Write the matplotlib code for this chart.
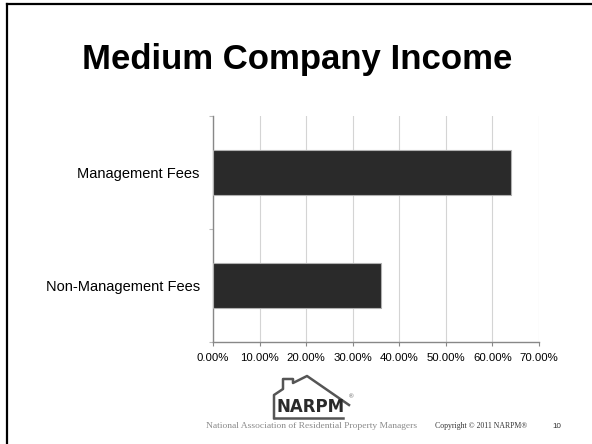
import matplotlib
matplotlib.use('Agg')
import matplotlib.pyplot as plt
from matplotlib.lines import Line2D
from matplotlib.ticker import FixedLocator, PercentFormatter

plt.rcParams['font.family'] = ['Liberation Sans', 'DejaVu Sans']

# data
categories = ['Management Fees', 'Non-Management Fees']
shares = [64.0, 36.0]
x_ticks = [0, 10, 20, 30, 40, 50, 60, 70]

W, H = 592, 444
fig = plt.figure(figsize=(W / 100, H / 100), dpi=100)


def px(x, y):
    # pixel (from top-left) -> figure fraction
    return x / W, 1 - y / H


ax = fig.add_axes([213 / W, 1 - 342 / H, (539 - 213) / W, (342 - 116) / H])

pos = list(range(len(categories)))
ax.barh(pos, shares, height=0.4, color='#2a2a2a', edgecolor='#b0b0b0', linewidth=0.8, zorder=3)

ax.set_xlim(0, 70)
ax.set_ylim(len(categories) - 0.5, -0.5)
ax.set_xticks(x_ticks)
ax.xaxis.set_major_formatter(PercentFormatter(decimals=2))
ax.set_yticks(pos)
ax.set_yticklabels(categories)
ax.yaxis.set_minor_locator(FixedLocator([-0.5, 0.5, 1.5]))

ax.tick_params(axis='x', length=3, width=0.8, color='#888888', labelsize=8.2, pad=5)
ax.tick_params(axis='y', which='major', length=0, labelsize=10.5, pad=9.5)
ax.tick_params(axis='y', which='minor', length=3, width=0.8, color='#bbbbbb')

ax.grid(axis='x', color='#d4d4d4', linewidth=0.8, zorder=0)
for s in ['top', 'right']:
    ax.spines[s].set_visible(False)
for s in ['left', 'bottom']:
    ax.spines[s].set_color('#888888')
    ax.spines[s].set_linewidth(1.0)

# slide title
fig.text(*px(297, 60), 'Medium Company Income', fontsize=25, fontweight='bold',
         ha='center', va='center')

# slide border (top and left)
fig.add_artist(Line2D([7 / W, 1], [1 - 4.5 / H] * 2, color='black', linewidth=1.6))
fig.add_artist(Line2D([7 / W] * 2, [1 - 4.5 / H, 0], color='black', linewidth=1.6))

# NARPM logo
house = [(274, 418), (274, 395), (283, 389), (283, 379), (293, 379), (293, 383),
         (307, 376), (349, 405)]
hx = [px(a, b)[0] for a, b in house]
hy = [px(a, b)[1] for a, b in house]
fig.add_artist(Line2D(hx, hy, color='#555555', linewidth=1.8))
fig.add_artist(Line2D([px(274, 0)[0], px(343, 0)[0]], [px(0, 418)[1]] * 2,
                      color='#555555', linewidth=1.8))
fig.text(*px(311, 407), 'NARPM', fontsize=12, fontweight='bold', color='#2a2a2a',
         ha='center', va='center', family='DejaVu Sans')
fig.text(*px(351, 397), '®', fontsize=4.5, color='#555555', ha='center', va='center')

# footer
fig.text(*px(312, 426), 'National Association of Residential Property Managers',
         fontsize=6.8, color='#8a8a8a', ha='center', va='center', family='Liberation Serif')
fig.text(*px(481, 426), 'Copyright © 2011 NARPM®', fontsize=5.6, color='#333333',
         ha='center', va='center', family='Liberation Serif')
fig.text(*px(557, 426), '10', fontsize=5.8, color='#333333',
         ha='center', va='center', family='Liberation Sans')

fig.savefig('out.png', dpi=100)
